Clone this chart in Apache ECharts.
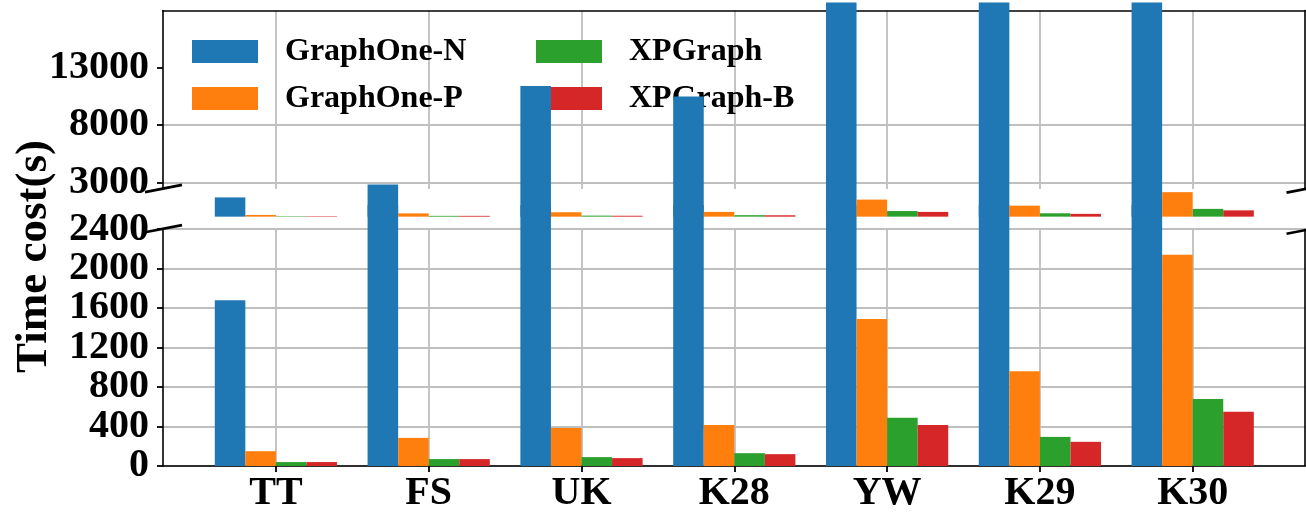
<!DOCTYPE html>
<html>
<head>
<meta charset="utf-8">
<script src="https://cdn.jsdelivr.net/npm/echarts@6/dist/echarts.min.js"></script>
<style>
  html, body { margin: 0; padding: 0; background: #fff; }
  #chart { width: 1306px; height: 512px; }
</style>
</head>
<body>
<div id="chart"></div>
<script>
// Datasets on the x axis
const categories = ['TT', 'FS', 'UK', 'K28', 'YW', 'K29', 'K30'];

// Time cost (s) per system
const graphOneN = [1680, 2800, 11400, 10500, 18700, 18700, 18700];
const graphOneP = [150, 285, 385, 415, 1490, 960, 2140];
const xpGraph   = [40, 70, 90, 130, 490, 295, 680];
const xpGraphB  = [40, 70, 80, 120, 415, 245, 550];

// Tick values of the two y-axis segments
const upperTicks = [3000, 8000, 13000];
const lowerTicks = [0, 400, 800, 1200, 1600, 2000, 2400];
const lowerTickStep = 400;
const lowerMax = 2400;
const upperMin = 3000;
const upperMax = 18000;

const seriesDefs = [
  { name: 'GraphOne-N', data: graphOneN, color: '#1f77b4' },
  { name: 'GraphOne-P', data: graphOneP, color: '#ff7f0e' },
  { name: 'XPGraph',    data: xpGraph,   color: '#2ca02c' },
  { name: 'XPGraph-B',  data: xpGraphB,  color: '#d62728' }
];

// ---- layout (pixels) ----
const FONT = '"Liberation Serif", "Times New Roman", serif';
const PLOT_L = 163, PLOT_R = 1305;
const UP_TOP = 10.5, UP_FRAME_BOTTOM = 189, UP_AXIS_BOTTOM = 182.3;
const LOW_TOP = 229.2, LOW_BOTTOM = 466;
const LOW_BAR_TOP = 205;
const FIRST_CENTER = 275.9, STEP = 152.8;
const N = categories.length;
const BAR_W = STEP * 0.2;
const GRID_COLOR = '#bfbfbf';

const lowerBarMax = lowerMax * (LOW_BOTTOM - LOW_BAR_TOP) / (LOW_BOTTOM - LOW_TOP);

// the lower labels sit closer than their font height, so they are split over
// two coincident axes to keep the overlap check from dropping any of them
const lowerLabelsA = lowerTicks.filter((v, i) => i % 2 === 0);
const lowerLabelsB = lowerTicks.filter((v, i) => i % 2 === 1);

function box(left, right, top, bottom) {
  return { left: left, top: top, width: right - left, height: bottom - top,
           containLabel: false, outerBoundsMode: 'none' };
}
const centersL = FIRST_CENTER, centersR = FIRST_CENTER + (N - 1) * STEP;
const bandL = FIRST_CENTER - STEP / 2, bandR = bandL + N * STEP;

const grids = [
  box(PLOT_L, PLOT_R, UP_TOP, UP_FRAME_BOTTOM),     // 0 upper frame
  box(PLOT_L, PLOT_R, UP_TOP, UP_AXIS_BOTTOM),      // 1 upper value scale
  box(centersL, centersR, UP_TOP, UP_FRAME_BOTTOM), // 2 upper vertical grid
  box(bandL, bandR, UP_TOP, UP_AXIS_BOTTOM),        // 3 upper bars
  box(PLOT_L, PLOT_R, LOW_TOP, LOW_BOTTOM),         // 4 lower frame + scale
  box(centersL, centersR, LOW_TOP, LOW_BOTTOM),     // 5 lower vertical grid + labels
  box(bandL, bandR, LOW_BAR_TOP, LOW_BOTTOM),       // 6 lower bars
  box(PLOT_L, PLOT_R, LOW_TOP, LOW_BOTTOM)          // 7 lower scale, second label set
];

const spine = { show: true, onZero: false, lineStyle: { color: '#000', width: 1.6 } };
const noAxisBits = { axisLabel: { show: false }, axisTick: { show: false }, splitLine: { show: false } };

function frameAxis(gridIndex, position, withLine) {
  return Object.assign({
    type: 'value', gridIndex: gridIndex, position: position, min: 0, max: 1,
    axisLine: withLine ? spine : { show: false, onZero: false }
  }, noAxisBits);
}
function hiddenValue(gridIndex, min, max) {
  return { type: 'value', gridIndex: gridIndex, min: min, max: max, show: false,
           axisLine: { onZero: false } };
}
function hiddenCategory(gridIndex) {
  return { type: 'category', gridIndex: gridIndex, data: categories, show: false,
           boundaryGap: true, axisLine: { onZero: false } };
}
const labelStyle = { color: '#000', fontFamily: FONT, fontWeight: 'bold', fontSize: 40 };
const tickStyle = { show: true, inside: false, length: 6, lineStyle: { color: '#000', width: 1.8 } };
const gridLine = { show: true, showMinLine: true, showMaxLine: true,
                   lineStyle: { color: GRID_COLOR, width: 1.8 } };

function yLabels(values) {
  return Object.assign({ show: true, margin: 14, customValues: values,
                         showMinLabel: true, showMaxLabel: true, hideOverlap: false,
                         formatter: v => String(v) }, labelStyle);
}

const xAxes = [
  frameAxis(0, 'top', true),                                  // x0 upper top spine
  hiddenValue(1, 0, 1),                                       // x1
  { type: 'category', gridIndex: 2, data: categories, boundaryGap: false,
    axisLine: { show: false, onZero: false }, axisTick: { show: false },
    axisLabel: { show: false }, splitLine: gridLine },         // x2
  hiddenCategory(3),                                          // x3
  frameAxis(4, 'bottom', true),                               // x4 lower bottom spine
  { type: 'category', gridIndex: 5, data: categories, boundaryGap: false, position: 'bottom',
    axisLine: { show: false, onZero: false }, axisTick: tickStyle,
    axisLabel: Object.assign({ show: true, margin: 8, interval: 0,
                               showMinLabel: true, showMaxLabel: true }, labelStyle),
    splitLine: gridLine },                                    // x5
  hiddenCategory(6),                                          // x6
  hiddenValue(7, 0, 1)                                        // x7
];

const yAxes = [
  frameAxis(0, 'left', true),                                 // y0 upper left spine
  frameAxis(0, 'right', true),                                // y1 upper right spine
  { type: 'value', gridIndex: 1, position: 'left', min: upperMin, max: upperMax, interval: 5000,
    axisLine: { show: false, onZero: false },
    axisTick: Object.assign({ customValues: upperTicks }, tickStyle),
    axisLabel: yLabels(upperTicks),
    splitLine: Object.assign({}, gridLine, { showMaxLine: false }) }, // y2
  hiddenValue(2, 0, 1),                                       // y3
  hiddenValue(3, upperMin, upperMax),                         // y4
  { type: 'value', gridIndex: 4, position: 'left', min: 0, max: lowerMax, interval: lowerTickStep,
    axisLine: spine,
    axisTick: Object.assign({ customValues: lowerTicks }, tickStyle),
    axisLabel: yLabels(lowerLabelsA),
    splitLine: gridLine },                                    // y5 (also the lower left spine)
  frameAxis(4, 'right', true),                                // y6 lower right spine
  hiddenValue(5, 0, 1),                                       // y7
  hiddenValue(6, 0, lowerBarMax),                             // y8
  { type: 'value', gridIndex: 7, position: 'left', min: 0, max: lowerMax, interval: lowerTickStep,
    axisLine: { show: false, onZero: false }, axisTick: { show: false },
    axisLabel: yLabels(lowerLabelsB), splitLine: { show: false } } // y9
];

const series = [];
seriesDefs.forEach(function (s) {
  // upper segment: bars run past the segment edges, down to its zero line
  series.push({ type: 'bar', name: s.name, data: s.data, xAxisIndex: 3, yAxisIndex: 4,
    barWidth: BAR_W, barGap: '0%', clip: false, z: 2,
    itemStyle: { color: s.color, borderWidth: 0 }, emphasis: { disabled: true } });
  // lower segment
  series.push({ type: 'bar', name: s.name, data: s.data, xAxisIndex: 6, yAxisIndex: 8,
    barWidth: BAR_W, barGap: '0%', clip: true, z: 2,
    itemStyle: { color: s.color, borderWidth: 0 }, emphasis: { disabled: true } });
});

function legend(left, names) {
  return {
    data: names, orient: 'vertical', left: left, top: 35.5, z: 1,
    icon: 'rect', itemWidth: 66, itemHeight: 23, itemGap: 15, padding: 0,
    textStyle: { color: '#000', fontFamily: FONT, fontWeight: 'bold', fontSize: 32,
                 padding: [0, 0, 0, 22] },
    selectedMode: false
  };
}

// diagonal break marks on both sides of the y-axis gap
function brk(cx, cy) {
  return { type: 'line', z: 10,
    shape: { x1: cx - 18.5, y1: cy + 3.6, x2: cx + 18.5, y2: cy - 3.6 },
    style: { stroke: '#000', lineWidth: 2.6 } };
}

const option = {
  animation: false,
  backgroundColor: '#fff',
  grid: grids,
  xAxis: xAxes,
  yAxis: yAxes,
  legend: [
    legend(192, ['GraphOne-N', 'GraphOne-P']),
    legend(536, ['XPGraph', 'XPGraph-B'])
  ],
  series: series,
  graphic: [
    { type: 'text', x: 34, y: 256.5, rotation: Math.PI / 2, z: 10,
      style: { text: 'Time cost(s)', fill: '#000', align: 'center', verticalAlign: 'middle',
               font: 'bold 45px ' + FONT } },
    brk(PLOT_L + 0.5, UP_FRAME_BOTTOM - 0.5),
    brk(PLOT_L + 0.5, LOW_TOP - 0.5),
    brk(PLOT_R, UP_FRAME_BOTTOM),
    brk(PLOT_R, LOW_TOP + 1)
  ]
};

const chart = echarts.init(document.getElementById('chart'), null, { renderer: 'canvas' });
chart.setOption(option);
</script>
</body>
</html>
